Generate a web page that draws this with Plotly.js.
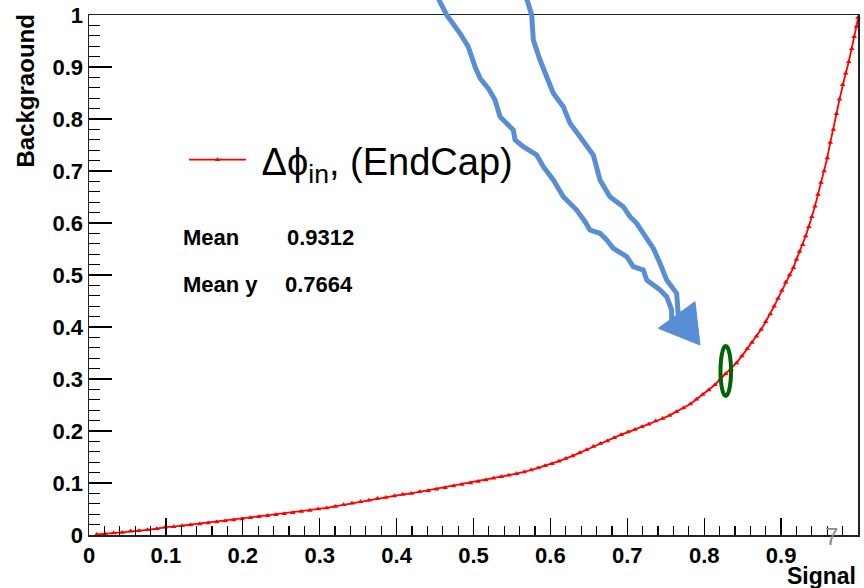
<!DOCTYPE html>
<html><head><meta charset="utf-8">
<script src="https://cdn.plot.ly/plotly-3.0.1.min.js"></script>
<style>html,body{margin:0;padding:0;background:#fff}#chart{width:864px;height:588px}</style>
</head><body><div id="chart"></div>
<script>
// ---- data ----
const signalEff = [0.010,0.021,0.032,0.043,0.054,0.065,0.076,0.088,0.099,0.110,0.121,0.132,0.144,0.155,0.166,0.177,0.188,0.199,0.210,0.221,0.232,0.243,0.254,0.265,0.276,0.287,0.298,0.309,0.320,0.331,0.342,0.353,0.364,0.375,0.386,0.397,0.408,0.419,0.430,0.441,0.452,0.463,0.474,0.485,0.496,0.506,0.516,0.526,0.536,0.546,0.556,0.566,0.575,0.584,0.593,0.602,0.611,0.620,0.629,0.638,0.647,0.656,0.665,0.674,0.683,0.692,0.701,0.710,0.719,0.728,0.737,0.746,0.755,0.764,0.773,0.782,0.790,0.798,0.806,0.814,0.821,0.828,0.835,0.842,0.849,0.856,0.862,0.868,0.874,0.880,0.886,0.891,0.896,0.901,0.906,0.911,0.916,0.920,0.924,0.928,0.932,0.936,0.940,0.944,0.948,0.952,0.956,0.960,0.964,0.968,0.972,0.976,0.980,0.984,0.988,0.992,0.995,0.998,1.000];
const backgroundEff = [0.001,0.002,0.004,0.005,0.007,0.008,0.010,0.012,0.015,0.016,0.018,0.019,0.021,0.023,0.025,0.027,0.029,0.031,0.033,0.035,0.037,0.039,0.041,0.043,0.045,0.047,0.050,0.052,0.055,0.058,0.061,0.064,0.067,0.070,0.072,0.075,0.078,0.080,0.083,0.085,0.088,0.091,0.094,0.097,0.100,0.103,0.106,0.109,0.112,0.115,0.118,0.121,0.125,0.129,0.133,0.137,0.142,0.147,0.152,0.158,0.164,0.170,0.176,0.181,0.187,0.193,0.198,0.203,0.208,0.213,0.219,0.224,0.230,0.237,0.244,0.252,0.261,0.270,0.279,0.289,0.300,0.310,0.319,0.331,0.344,0.358,0.370,0.382,0.395,0.410,0.425,0.440,0.455,0.470,0.486,0.500,0.514,0.530,0.545,0.558,0.575,0.593,0.612,0.632,0.655,0.678,0.700,0.725,0.755,0.780,0.810,0.838,0.866,0.888,0.910,0.935,0.958,0.978,0.995,1.000];
const tickVals = [0,0.1,0.2,0.3,0.4,0.5,0.6,0.7,0.8,0.9,1];
const tickText = ['0','0.1','0.2','0.3','0.4','0.5','0.6','0.7','0.8','0.9','1'];
const seriesName = '\u00a0Δϕ<sub>in</sub>, (EndCap)';
const xTitle = 'Signal';
const yTitle = 'Backgraound';
const statLabels = ['Mean', 'Mean y'];
const statValues = ['0.9312', '0.7664'];
const pageNumber = '7';

// ---- geometry helpers (pixel -> paper) ----
const L = 89, R = 858, T = 15, B = 535;
const px = x => (x - L) / (R - L);
const py = y => (B - y) / (B - T);
const path = pts => pts.map((p, i) => (i ? 'L' : 'M') + px(p[0]).toFixed(4) + ',' + py(p[1]).toFixed(4)).join(' ');

const minorTicks = [];
for (let i = 0; i <= 50; i++) minorTicks.push(+(i * 0.02).toFixed(2));

const arrowA = [[438,-2],[446.7,15],[460,33.3],[468.3,46.7],[475,66.7],[480,78.3],[488.3,88.3],[495,100],[500,116.7],[513.3,130],[515,140],[523.3,146.7],[536.7,155],[543.3,166.7],[553.3,180],[563.3,196.7],[576.7,210],[585,221.7],[590,230],[600,233.3],[606.7,240],[613.3,248.3],[626.7,256.7],[633.3,266.7],[643.3,270],[646.7,280],[660,290],[666.7,296.7],[671.7,310],[671.7,320]];
const arrowB = [[526.5,-2],[531.7,15],[533.3,40],[540,60],[546.7,76.7],[553.3,93.3],[563.3,106.7],[570,123.3],[580,136.7],[593.3,155],[600,180],[610,196.7],[623.3,206.7],[630,216.7],[636.7,223.3],[643.3,233.3],[653.3,248.3],[660,263.3],[666.7,280],[676.7,293.3],[678.3,315]];
const head = [[658.3,328.3],[695,301.7],[700,345]];

const FAM = 'Liberation Sans, Arial, sans-serif';
const tickFont = {family:FAM, size:22, color:'#000', weight:'bold'};
const blue = '#588ed6';

const trace = {
  x: signalEff, y: backgroundEff, type:'scatter', mode:'lines+markers', name: seriesName,
  line:{color:'#ff0000', width:1.8}, marker:{symbol:'triangle-up', size:5, color:'#ff0000'},
  cliponaxis:false
};
// empty trace that only carries the minor-tick overlay axes
const minorCarrier = {x:[], y:[], type:'scatter', mode:'markers', xaxis:'x2', yaxis:'y2', showlegend:false, hoverinfo:'skip'};

const majorAxis = {
  range:[0,1], tickmode:'array', tickvals:tickVals, ticktext:tickText,
  ticks:'inside', tickcolor:'#000', tickwidth:1.3,
  showline:true, linecolor:'#222', linewidth:1.5, mirror:true,
  showgrid:false, zeroline:false, tickfont:tickFont, fixedrange:true
};
const minorAxis = {
  range:[0,1], tickmode:'array', tickvals:minorTicks, showticklabels:false,
  ticks:'inside', tickcolor:'#000', tickwidth:1.2, showline:false,
  showgrid:false, zeroline:false, fixedrange:true
};

const layout = {
  width:864, height:588,
  margin:{l:L, r:864-R, t:T, b:588-B, pad:0},
  paper_bgcolor:'#fff', plot_bgcolor:'#fff',
  font:{family:FAM, color:'#000'},
  xaxis: Object.assign({}, majorAxis, {ticklen:17}),
  yaxis: Object.assign({}, majorAxis, {ticklen:23}),
  xaxis2: Object.assign({}, minorAxis, {ticklen:9, overlaying:'x', anchor:'y2', side:'bottom'}),
  yaxis2: Object.assign({}, minorAxis, {ticklen:11, overlaying:'y', anchor:'x2', side:'left'}),
  showlegend:true,
  legend:{x:px(184), y:py(160), xanchor:'left', yanchor:'middle', itemwidth:57,
    font:{family:FAM, size:38, color:'#000'},
    bgcolor:'rgba(0,0,0,0)', borderwidth:0},
  annotations:[
    {xref:'paper', yref:'paper', x:1, y:py(576), xanchor:'right', yanchor:'middle', text:xTitle, showarrow:false,
      font:{family:FAM, size:23, weight:'bold', color:'#000'}},
    {xref:'paper', yref:'paper', x:px(25), y:py(13), xanchor:'center', yanchor:'top', text:yTitle, textangle:-90, showarrow:false,
      font:{family:FAM, size:24, weight:'bold', color:'#000'}},
    {xref:'paper', yref:'paper', x:px(181), y:py(237), xanchor:'left', yanchor:'middle', text:statLabels[0], showarrow:false,
      font:{family:FAM, size:22, weight:'bold', color:'#000'}},
    {xref:'paper', yref:'paper', x:px(285), y:py(237), xanchor:'left', yanchor:'middle', text:statValues[0], showarrow:false,
      font:{family:FAM, size:22, weight:'bold', color:'#000'}},
    {xref:'paper', yref:'paper', x:px(181), y:py(285), xanchor:'left', yanchor:'middle', text:statLabels[1], showarrow:false,
      font:{family:FAM, size:22, weight:'bold', color:'#000'}},
    {xref:'paper', yref:'paper', x:px(283), y:py(285), xanchor:'left', yanchor:'middle', text:statValues[1], showarrow:false,
      font:{family:FAM, size:22, weight:'bold', color:'#000'}},
    {xref:'paper', yref:'paper', x:px(831), y:py(536), xanchor:'center', yanchor:'middle', text:pageNumber, showarrow:false,
      font:{family:FAM, size:24, color:'#8c8c8c'}}
  ],
  shapes:[
    {type:'path', xref:'paper', yref:'paper', path:path(arrowA), line:{color:blue, width:5}},
    {type:'path', xref:'paper', yref:'paper', path:path(arrowB), line:{color:blue, width:5}},
    {type:'path', xref:'paper', yref:'paper', path:path(head)+' Z', line:{color:blue, width:1}, fillcolor:blue},
    {type:'circle', xref:'paper', yref:'paper', x0:px(720.5), x1:px(731), y0:py(396), y1:py(346), line:{color:'#006400', width:4}}
  ]
};

Plotly.newPlot('chart', [minorCarrier, trace], layout, {staticPlot:true, displayModeBar:false});
</script>
</body></html>
